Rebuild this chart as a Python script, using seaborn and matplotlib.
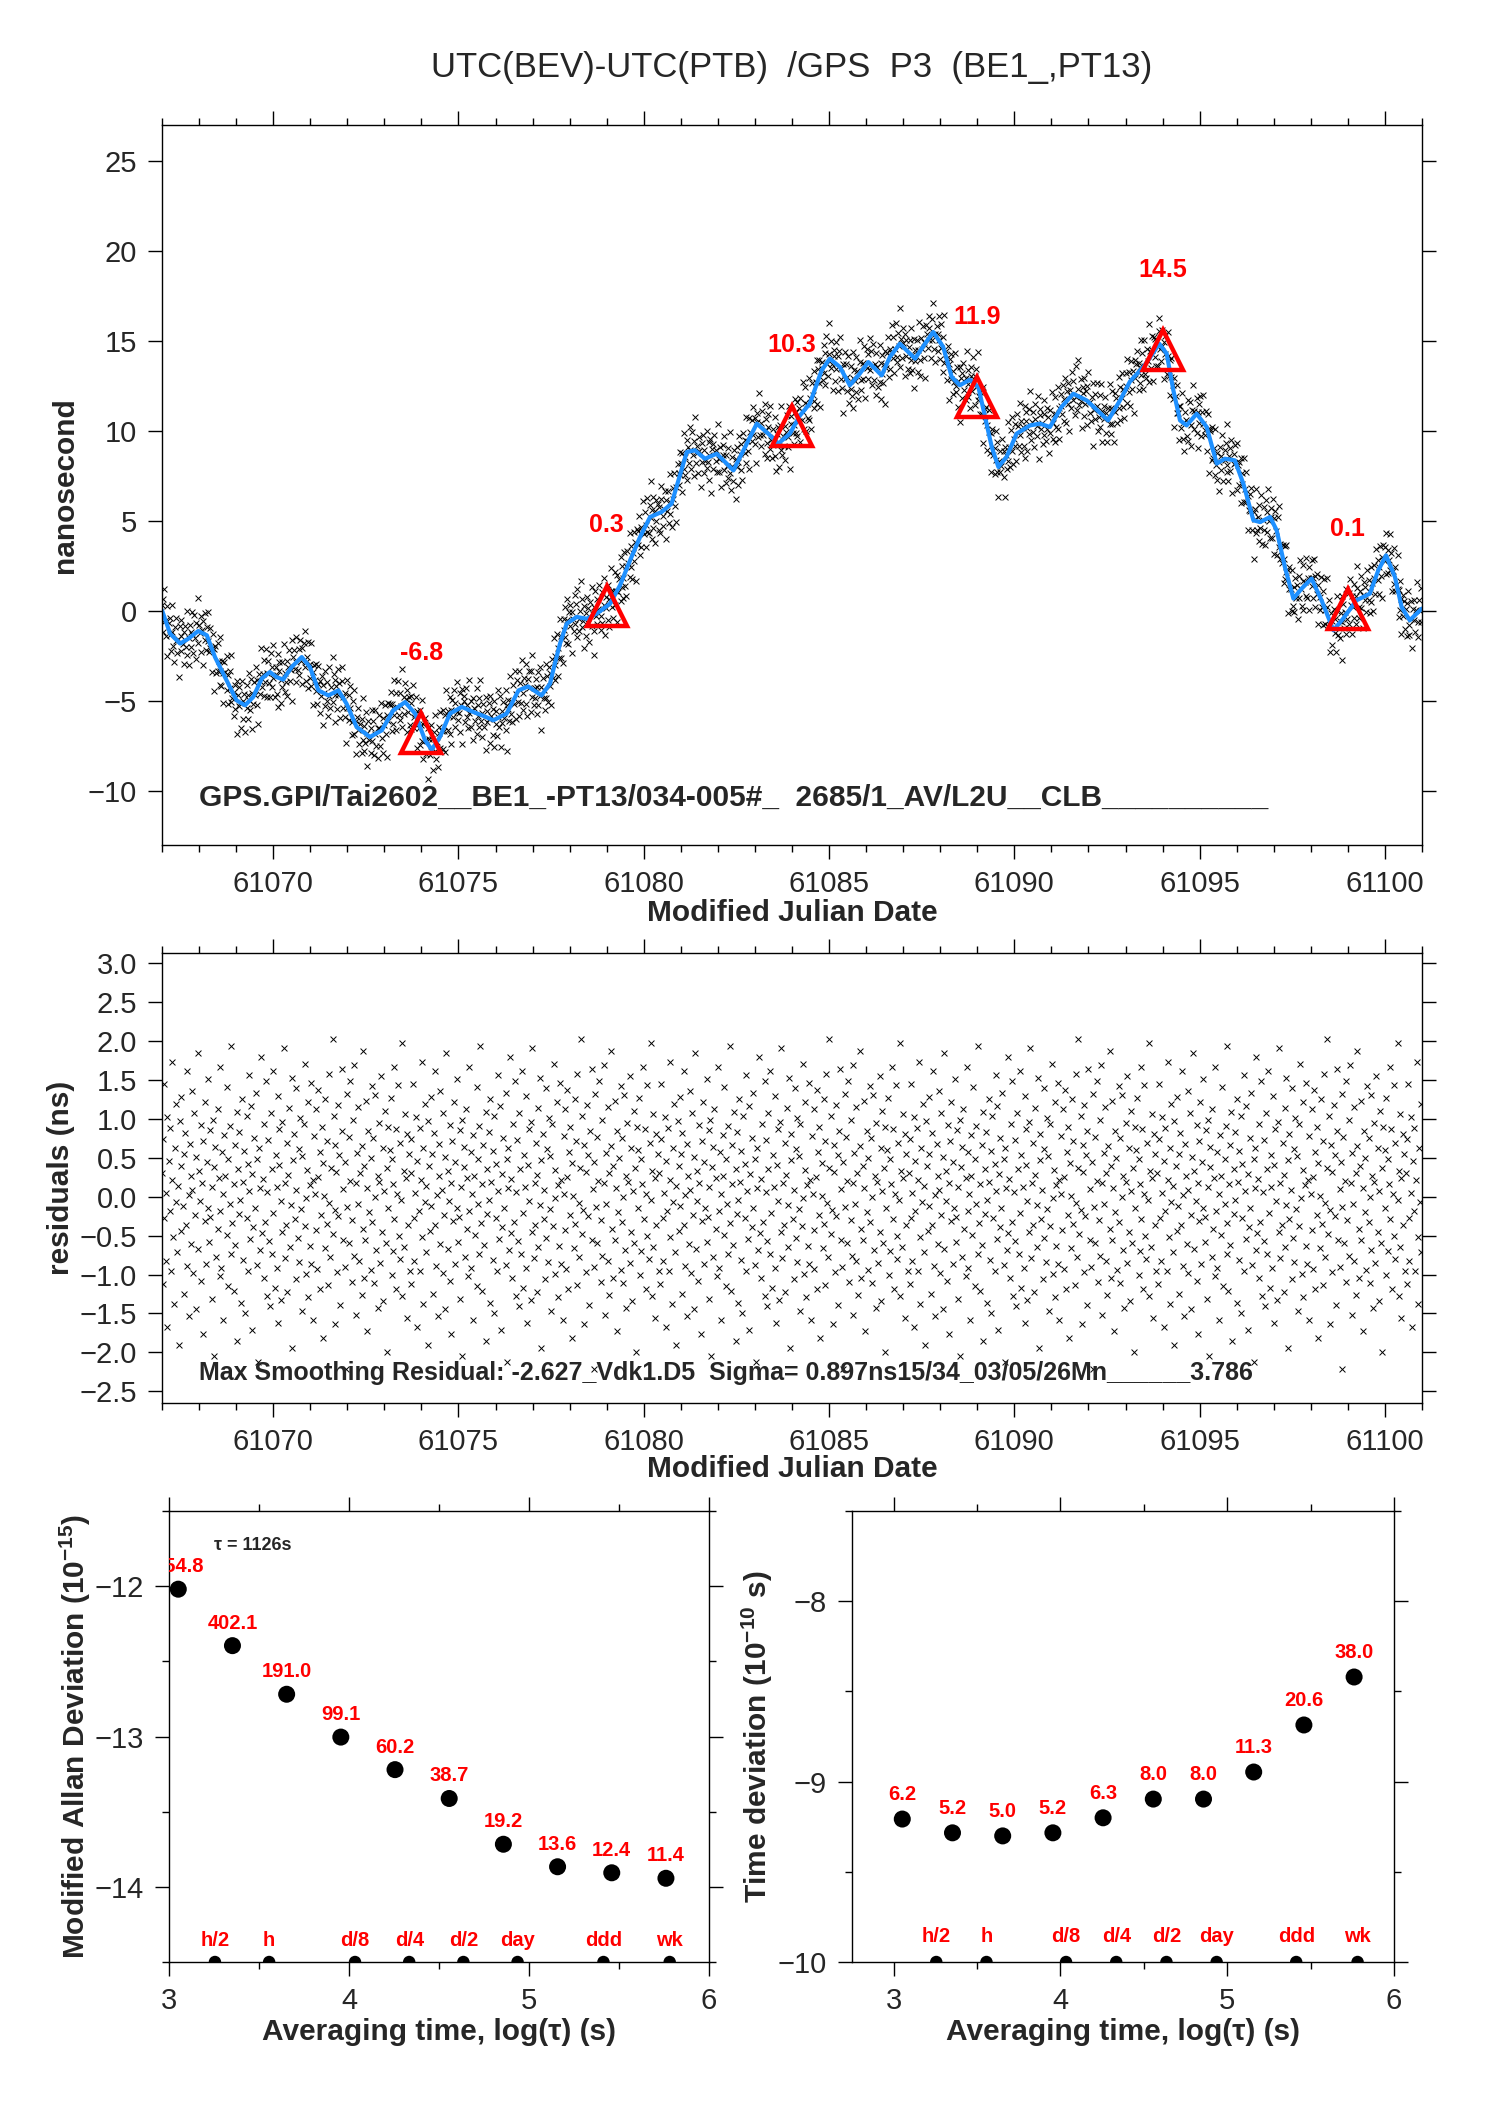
import numpy as np
import pandas as pd
import seaborn as sns
import matplotlib
matplotlib.use("Agg")
import matplotlib.pyplot as plt
from matplotlib.ticker import MultipleLocator

# --- smoothed curve (MJD, ns)
smooth_mjd = [61067.00, 61067.22, 61067.49, 61067.71, 61067.98, 61068.21, 61068.43, 61068.74,
              61069.01, 61069.24, 61069.46, 61069.69, 61069.91, 61070.09, 61070.27, 61070.50,
              61070.77, 61070.99, 61071.22, 61071.49, 61071.76, 61071.98, 61072.25, 61072.61,
              61072.93, 61073.24, 61073.56, 61073.83, 61074.10, 61074.28, 61074.50, 61074.77,
              61075.09, 61075.40, 61075.70, 61075.94, 61076.30, 61076.62, 61076.88, 61077.24,
              61077.47, 61077.60, 61077.74, 61077.92, 61078.19, 61078.46, 61078.73, 61079.09,
              61079.36, 61079.63, 61079.90, 61080.17, 61080.48, 61080.75, 61080.96, 61081.16,
              61081.38, 61081.65, 61081.97, 61082.42, 61082.69, 61083.05, 61083.36, 61083.63,
              61083.94, 61084.21, 61084.48, 61084.80, 61085.02, 61085.29, 61085.56, 61085.83,
              61086.06, 61086.42, 61086.64, 61086.91, 61087.32, 61087.59, 61087.81, 61088.08,
              61088.31, 61088.53, 61088.80, 61089.03, 61089.21, 61089.39, 61089.57, 61089.79,
              61090.06, 61090.42, 61090.69, 61090.96, 61091.27, 61091.59, 61091.95, 61092.53,
              61092.85, 61093.12, 61093.48, 61093.70, 61093.91, 61094.11, 61094.29, 61094.47,
              61094.65, 61094.92, 61095.19, 61095.46, 61095.68, 61095.95, 61096.18, 61096.45,
              61096.63, 61096.90, 61097.08, 61097.30, 61097.53, 61097.75, 61098.02, 61098.29,
              61098.61, 61098.87, 61099.23, 61099.59, 61099.82, 61100.03, 61100.27, 61100.45,
              61100.67, 61100.99]
smooth_ns = [0.04, -1.26, -1.81, -1.54, -1.11, -1.35, -2.56, -3.85,
             -4.96, -5.24, -4.78, -3.76, -3.39, -3.67, -3.81, -3.11,
             -2.56, -3.11, -4.41, -4.69, -4.41, -5.15, -6.44, -7.00,
             -6.63, -5.52, -5.06, -5.70, -7.19, -7.70, -7.00, -5.70,
             -5.33, -5.61, -5.85, -6.07, -5.70, -4.41, -4.19, -4.69,
             -4.04, -2.93, -1.81, -0.70, -0.33, -0.43, -0.15, 0.41,
             1.43, 2.81, 4.11, 5.22, 5.50, 5.96, 7.44, 8.83,
             8.93, 8.46, 8.74, 7.81, 8.93, 10.41, 9.85, 9.30,
             9.85, 10.85, 11.52, 13.37, 14.02, 13.56, 12.54, 13.19,
             13.83, 13.09, 14.11, 14.85, 14.02, 14.85, 15.50, 14.67,
             13.00, 12.54, 12.85, 12.44, 10.78, 9.11, 8.00, 8.56,
             9.85, 10.31, 10.41, 10.22, 11.33, 12.07, 11.70, 10.59,
             11.70, 12.75, 13.56, 14.20, 14.85, 14.30, 12.26, 10.59,
             10.31, 10.96, 10.22, 8.19, 8.46, 8.37, 7.07, 5.04,
             4.94, 5.22, 4.48, 2.44, 0.69, 1.24, 1.80, 0.59,
             -1.07, -0.43, 0.59, 0.96, 2.26, 3.09, 1.89, 0.22,
             -0.52, 0.13]

# --- sample of smoothing residuals (ns), repeated along the record
resid_sample = [
    0.31, -1.12, 0.74, 1.45, -0.28, -0.83, 0.05, 1.02, -1.67, 0.46, -0.19, 0.88, -0.95, 0.21, 1.73, -0.52, -1.38, 0.63, -0.07, 1.19,
    -0.71, 0.14, -1.91, 0.97, 0.39, -0.44, 1.28, -0.12, 0.55, -1.25, 0.82, -0.36, 1.61, -0.89, 0.02, -1.53, 0.68, 0.27, -0.61, 1.36,
    0.09, -0.98, 1.07, -0.23, -1.44, 0.51, 1.84, -0.67, 0.33, -0.05, -1.08, 0.92, 0.17, -1.76, 0.71, -0.31, 1.22, -0.86, 0.44, -0.14,
    1.51, -0.58, -0.26, 0.86, -1.31, 0.12, 0.99, -2.05, 0.38, 0.64, -0.77, 1.13, -0.41, 0.24, -1.02, 1.67, -0.18, -0.92, 0.57, 0.03,
    -1.59, 0.79, 0.26, -0.49, 1.41, -1.15, 0.48, -0.09, 0.91, -0.73, 1.94, -0.34, -1.21, 0.16, 0.67, -0.62, 1.09, -1.85, 0.35, -0.22,
    0.83, -0.04, -1.36, 1.25, 0.19, -0.81, 0.59, -1.49, 1.04, -0.27, 0.42, -0.96, 1.56, 0.07, -0.54, 1.17, -1.71, 0.29, -0.39, 0.75,
    -0.15, 1.33, -0.88, 0.49, -2.12, 0.62, 0.11, -0.69, 1.79, -0.47, 0.23, -1.05, 0.94, -0.33, 1.48, -1.27, 0.06, 0.73, -0.57, -1.41,
    1.08, 0.36, -0.74, 1.62, -0.21, -1.17, 0.54, 0.13, -0.91, 1.29, -1.62, 0.41, 0.87, -0.06, -1.33, 0.96, -0.45, 1.91, -0.79, 0.18,
    -0.37, 0.69, -1.23, 0.28, 1.14, -0.64, -0.11, 1.53, -1.94, 0.47, 0.81, -0.29, 0.08, -1.06, 1.39, -0.53, 0.61, -0.84, 1.01, -0.16,
    0.52, -1.47, 0.93, -0.38, 1.71, -0.02, -0.99, 0.34, 1.21, -1.29, 0.15, -0.63, 1.46, -0.87, 0.22, -1.58, 0.78, 0.04, -0.43, 1.12,
    -0.93, 0.25, 1.37, -1.19, 0.58, -0.24, 0.89, -1.81, 0.43, 0.01, -0.66, 1.26, -0.35, 0.72, -1.13, 1.58, -0.08, -0.78, 0.37, 2.03,
    -0.48, 1.03, -0.17, -1.64, 0.66, 0.32, -0.97, 1.18, -0.25, 0.53, -1.39, 0.85, 1.64, -0.56, 0.10, -0.90, 0.45, -2.21, 1.32, -0.13,
    0.77, -0.60, 0.20, 1.49, -1.09, -0.30, 0.98, -0.76, 1.69, 0.18, -1.52, 0.56, -0.10, 1.15, -0.82, 0.30, -1.26, 0.65, 1.87, -0.42,
    -1.04, 0.40, -0.55, 1.23, 0.11, -1.73, 0.84, -0.20, 0.50, -0.94, 1.42, -0.32, 0.76, -1.11, -0.01, 1.31, -0.68, 0.26, -1.43, 0.95,
    0.19, -0.85, 1.55, -0.46, 0.63, -1.34, 0.07, 1.10, -0.59, 0.37, -2.00, 0.90, -0.14, 0.60, 1.27, -1.00, 0.48, -0.70, 0.16, 1.66,
    -0.29, 0.87, -1.18, 0.03, 1.44, -0.51, -0.80, 0.69, -0.04, 1.97, -1.28, 0.33, -0.65, 1.06, 0.24, -1.56, 0.80, -0.37, 0.55, -0.95,
]
# gaps between successive observations (minutes), repeated along the record
gap_min = [22, 10, 34, 22, 54, 8, 36, 22, 70, 14, 30, 22, 46, 10, 42, 22, 26, 58, 12,
           32, 22, 50, 18, 38, 22, 8, 64, 26, 22, 42, 14, 34, 22, 78, 16, 28, 22]

# --- daily values marked with triangles
mark_mjd = [61074, 61079, 61084, 61089, 61094, 61099]
mark_ns = [-6.8, 0.3, 10.3, 11.9, 14.5, 0.1]

# --- stability (tau in s)
tau_s = [1126, 2252, 4504, 9008, 18016, 36032, 72064, 144128, 288256, 576512]
mdev_e15 = [954.8, 402.1, 191.0, 99.1, 60.2, 38.7, 19.2, 13.6, 12.4, 11.4]
tdev_e10 = [6.2, 5.2, 5.0, 5.2, 6.3, 8.0, 8.0, 11.3, 20.6, 38.0]
ref_names = ["h/2", "h", "d/8", "d/4", "d/2", "day", "ddd", "wk"]
ref_tau_s = [1800, 3600, 10800, 21600, 43200, 86400, 259200, 604800]

title = "UTC(BEV)-UTC(PTB)  /GPS  P3  (BE1_,PT13)"
info_top = "GPS.GPI/Tai2602__BE1_-PT13/034-005#_  2685/1_AV/L2U__CLB__________"
info_res = "Max Smoothing Residual: -2.627_Vdk1.D5  Sigma= 0.897ns15/34_03/05/26Mn______3.786"

sns.set_style("ticks")
plt.rcParams["font.family"] = ["Liberation Sans", "DejaVu Sans"]
plt.rcParams["mathtext.fontset"] = "custom"
plt.rcParams["mathtext.rm"] = "Liberation Sans:bold"
plt.rcParams["mathtext.default"] = "rm"

# observations
gaps = np.resize(np.array(gap_min, dtype=float), 3000)
mjd_obs = 61067.0 + np.concatenate([[0.0], np.cumsum(gaps)]) / 1440.0
mjd_obs = mjd_obs[mjd_obs < 61101.0]
resid = np.resize(np.array(resid_sample), len(mjd_obs))
obs = pd.DataFrame({"mjd": mjd_obs, "resid": resid})
obs["ns"] = np.interp(obs["mjd"], smooth_mjd, smooth_ns) + obs["resid"]

W, H = 1488, 2105
fig = plt.figure(figsize=(W / 100, H / 100), dpi=100)
ax1 = fig.add_axes([162 / W, 1 - 845 / H, 1260 / W, 720 / H])
ax2 = fig.add_axes([162 / W, 1 - 1403 / H, 1260 / W, 450 / H])
ax3 = fig.add_axes([169 / W, 1 - 1962 / H, 540 / W, 451 / H])
ax4 = fig.add_axes([852 / W, 1 - 1962 / H, 542 / W, 451 / H])

RED = "#ff0000"
BLUE = "#1e90ff"
LAB = 21.5


def style(ax):
    for s in ax.spines.values():
        s.set_linewidth(1.0)
        s.set_color("black")
    ax.tick_params(which="both", direction="out", top=True, right=True,
                   width=1.0, color="black", labelsize=21, pad=8)
    ax.tick_params(which="major", length=10)
    ax.tick_params(which="minor", length=5)


# ---- top panel
sns.scatterplot(data=obs, x="mjd", y="ns", marker="x", color="black", s=18,
                linewidth=0.7, ax=ax1, legend=False)
sns.lineplot(x=smooth_mjd, y=smooth_ns, color=BLUE, linewidth=3.0, estimator=None,
             sort=False, ax=ax1)
ax1.plot(mark_mjd, mark_ns, linestyle="none", marker="^", markersize=29,
         markerfacecolor="none", markeredgecolor=RED, markeredgewidth=3.2)
for m, v in zip(mark_mjd, mark_ns):
    ax1.text(m, v + 4.45, f"{v:.1f}", color=RED, fontsize=18, fontweight="bold",
             ha="center", va="center")
ax1.text(61068.0, -10.4, info_top, fontsize=21.5, fontweight="bold", ha="left", va="center")
ax1.set_xlim(61067, 61101)
ax1.set_ylim(-13, 27)
ax1.xaxis.set_major_locator(MultipleLocator(5))
ax1.xaxis.set_minor_locator(MultipleLocator(1))
ax1.yaxis.set_major_locator(MultipleLocator(5))
style(ax1)
ax1.set_xlabel("Modified Julian Date", fontsize=LAB, fontweight="bold")
ax1.set_ylabel("nanosecond", fontsize=LAB, fontweight="bold")
ax1.xaxis.set_label_coords(0.5, -0.094)
ax1.xaxis.label.set_va("center")
ax1.yaxis.set_label_coords(-0.077, 0.5)
ax1.yaxis.label.set_va("center")

fig.text(792 / W, 1 - 68 / H, title, fontsize=25, ha="center", va="center")

# ---- residuals
sns.scatterplot(data=obs, x="mjd", y="resid", marker="x", color="black", s=18,
                linewidth=0.7, ax=ax2, legend=False)
ax2.text(61068.0, -2.27, info_res, fontsize=18, fontweight="bold", ha="left", va="center")
ax2.set_xlim(61067, 61101)
ax2.set_ylim(-2.65, 3.13)
ax2.xaxis.set_major_locator(MultipleLocator(5))
ax2.xaxis.set_minor_locator(MultipleLocator(1))
ax2.yaxis.set_major_locator(MultipleLocator(0.5))
style(ax2)
ax2.set_xlabel("Modified Julian Date", fontsize=LAB, fontweight="bold")
ax2.set_ylabel("residuals (ns)", fontsize=LAB, fontweight="bold")
ax2.xaxis.set_label_coords(0.5, -0.147)
ax2.xaxis.label.set_va("center")
ax2.yaxis.set_label_coords(-0.080, 0.5)
ax2.yaxis.label.set_va("center")

# ---- stability panels
log_tau = np.log10(tau_s)
log_ref = np.log10(ref_tau_s)
stab = [
    (ax3, np.log10(mdev_e15) - 15, mdev_e15, (3, 6), (-14.5, -11.5), 0.15,
     "Modified Allan Deviation (10$^{-15}$)"),
    (ax4, np.log10(tdev_e10) - 10, tdev_e10, (2.75, 6), (-10, -7.5), 0.135,
     "Time deviation (10$^{-10}$ s)"),
]
for ax, yv, vals, xl, yl, off, ylab in stab:
    sns.scatterplot(x=log_tau, y=yv, color="black", s=150, edgecolor="none", ax=ax,
                    legend=False)
    for x, y, v in zip(log_tau, yv, vals):
        ax.text(x, y + off, f"{v:.1f}", color=RED, fontsize=14.5, fontweight="bold",
                ha="center", va="center", clip_on=True)
    sns.scatterplot(x=log_ref, y=[yl[0]] * len(log_ref), color="black", s=80,
                    edgecolor="none", ax=ax, legend=False)
    for x, name in zip(log_ref, ref_names):
        ax.text(x, yl[0] + 0.14, name, color=RED, fontsize=14.5, fontweight="bold",
                ha="center", va="center")
    ax.set_xlim(*xl)
    ax.set_ylim(*yl)
    ax.xaxis.set_major_locator(MultipleLocator(1))
    ax.xaxis.set_minor_locator(MultipleLocator(0.5))
    ax.yaxis.set_major_locator(MultipleLocator(1))
    ax.yaxis.set_minor_locator(MultipleLocator(0.5))
    style(ax)
    ax.set_xlabel("Averaging time, log(\u03c4) (s)", fontsize=LAB, fontweight="bold")
    ax.set_ylabel(ylab, fontsize=LAB, fontweight="bold")
    ax.xaxis.set_label_coords(0.5, -0.155)
    ax.xaxis.label.set_va("center")
    ax.yaxis.set_label_coords(-0.174, 0.5)
    ax.yaxis.label.set_va("center")

ax3.text(3.25, -11.73, "\u03c4 = 1126s", fontsize=13, fontweight="bold", ha="left",
         va="center")

fig.savefig("out.png", dpi=100)
